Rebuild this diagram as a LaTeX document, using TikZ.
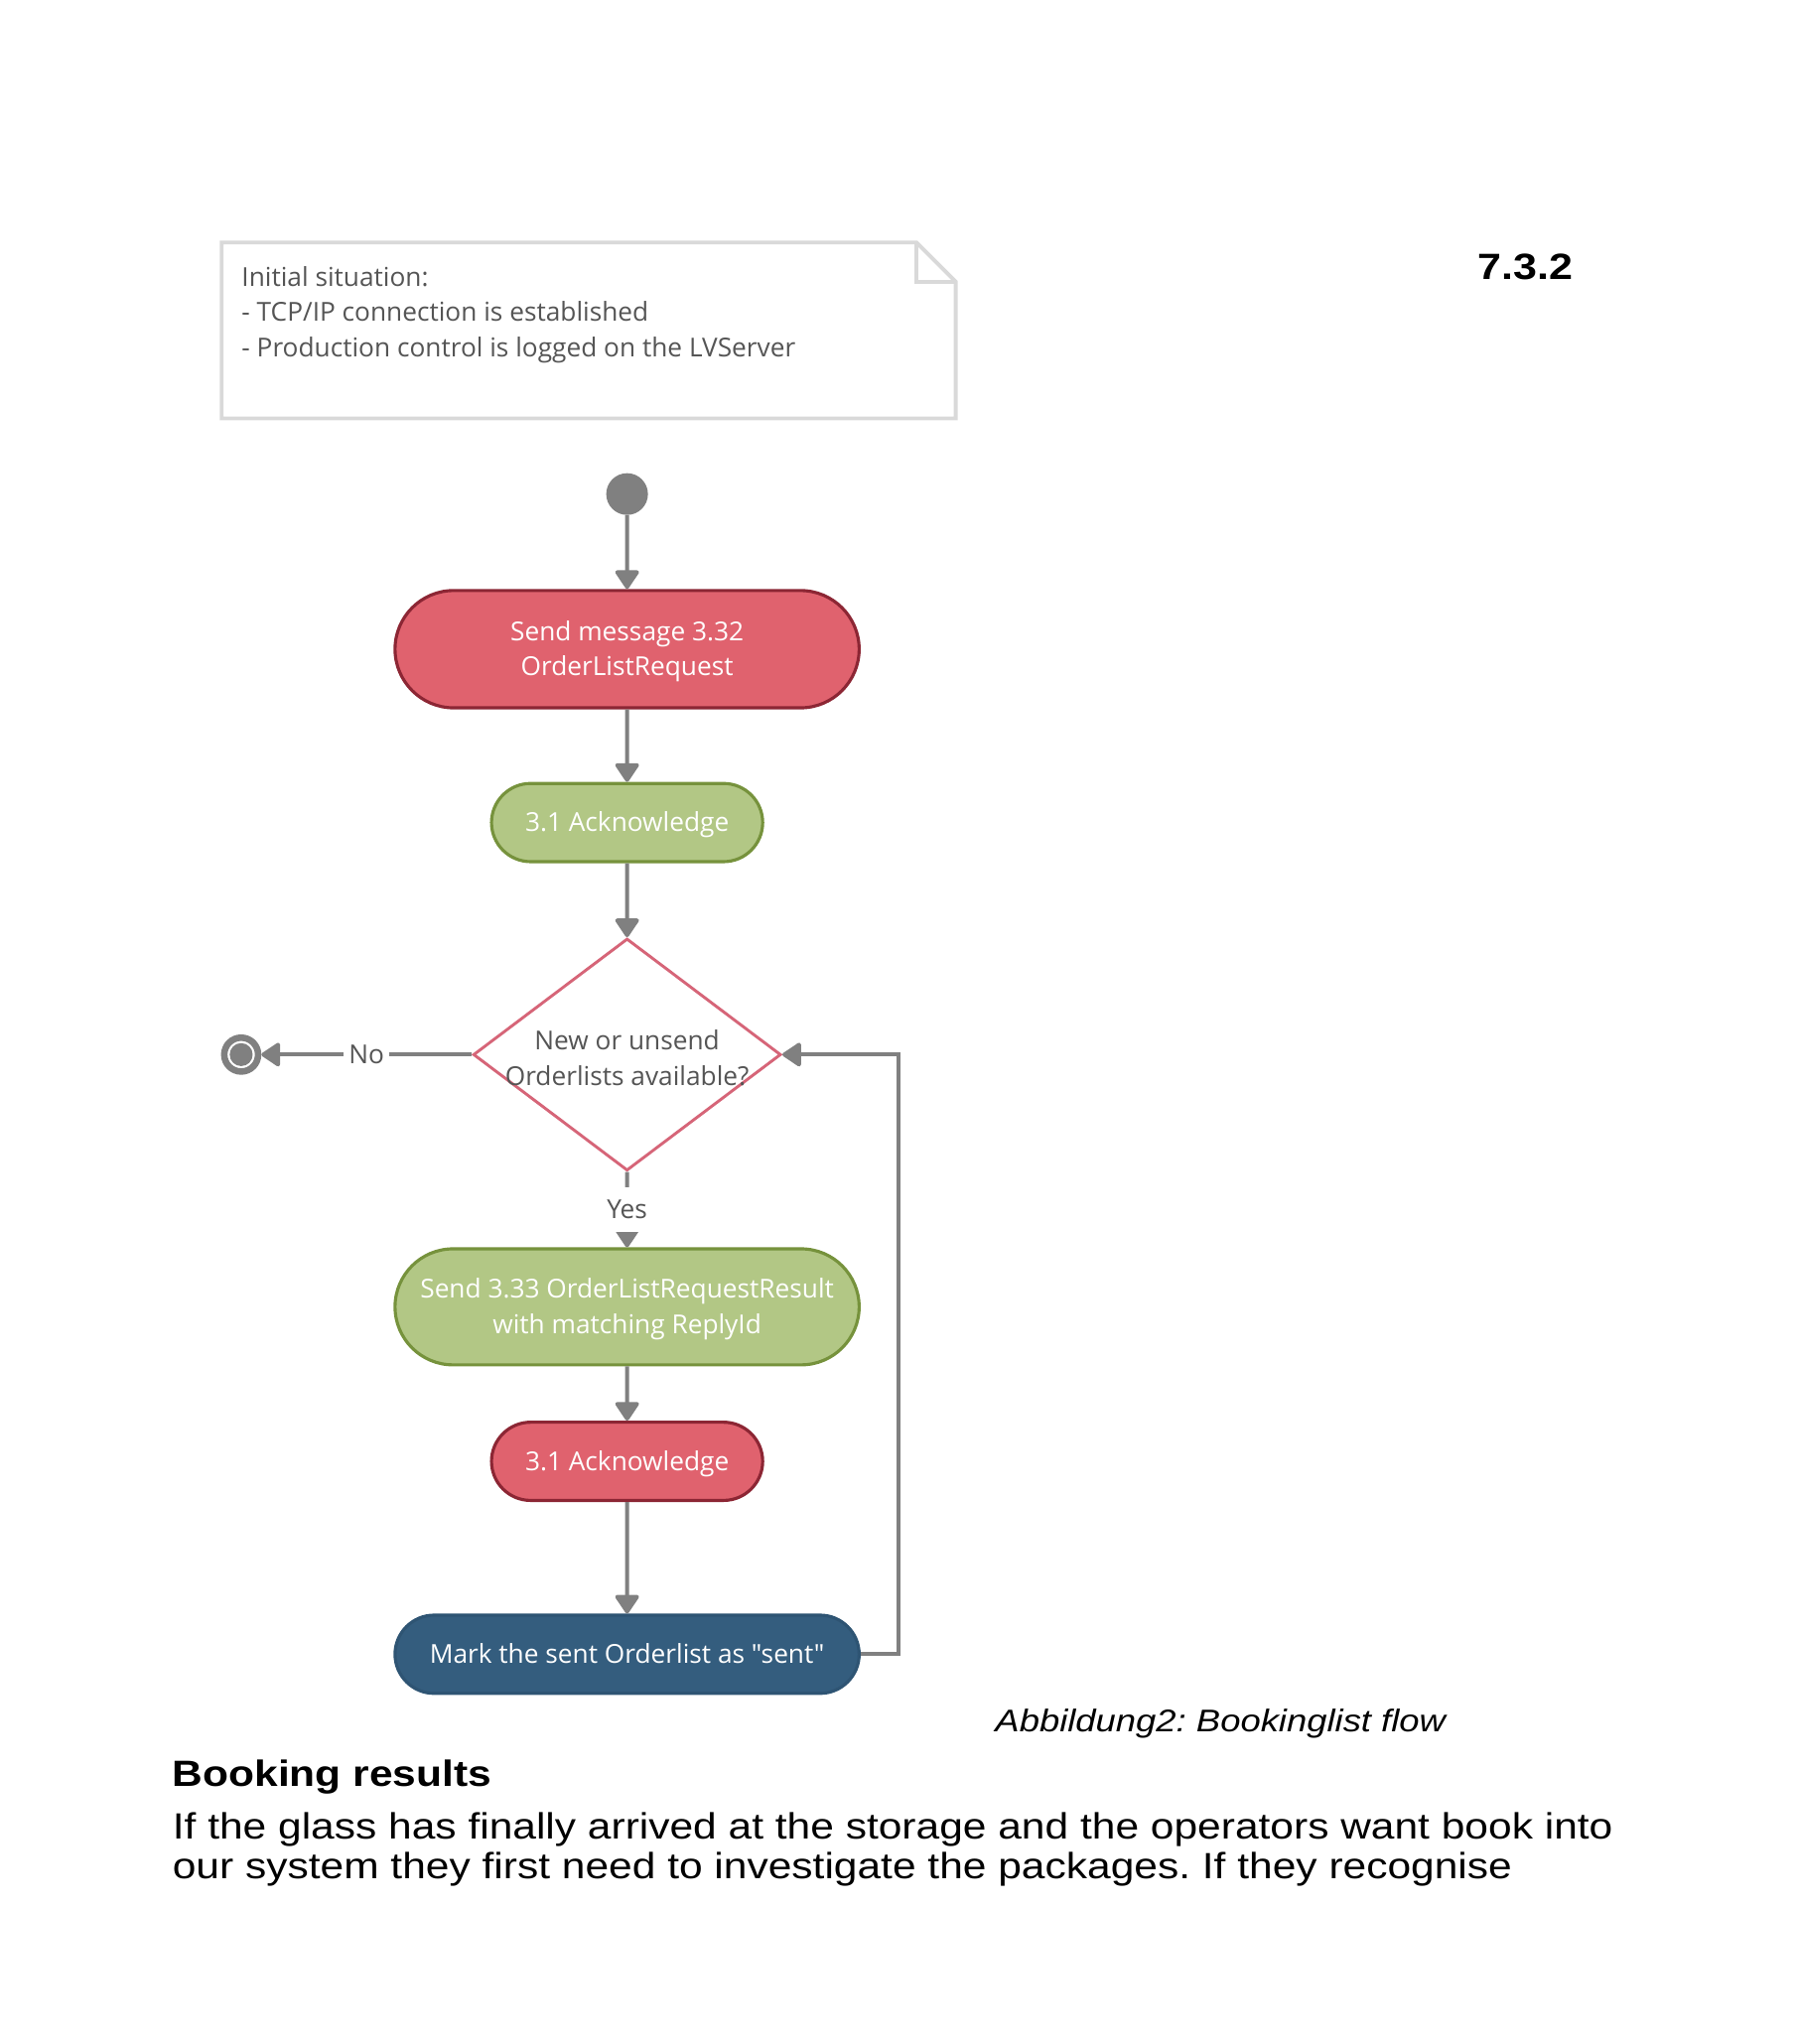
\documentclass[tikz,border=0pt]{standalone}
\usepackage{fontspec}
\setmainfont{Open Sans}[Ligatures=TeXOff]
\newfontfamily\arialfont{Liberation Sans}
\usetikzlibrary{shapes.misc,shapes.geometric,arrows.meta}
\frenchspacing
\definecolor{arrowgray}{RGB}{128,128,128}
\definecolor{redfill}{RGB}{224,98,110}
\definecolor{redline}{RGB}{140,38,52}
\definecolor{greenfill}{RGB}{178,199,133}
\definecolor{greenline}{RGB}{118,146,60}
\definecolor{bluefill}{RGB}{52,93,126}
\definecolor{blueline}{RGB}{46,84,115}
\definecolor{diamline}{RGB}{214,101,120}
\definecolor{noteline}{RGB}{217,217,217}
\definecolor{txtgray}{RGB}{85,85,85}
\newcommand\boxstrut{\rule[-3pt]{0pt}{13pt}}
\newcommand\widen[1]{\scalebox{1.156}[1]{#1}}
\begin{document}
\begin{tikzpicture}[x={(0.5pt,0)},y={(0,-0.5pt)},
  arr/.style={draw=arrowgray,line width=1.5pt,-{Triangle[length=7.8pt,width=10pt,round]}},
  box/.style={rounded rectangle,line width=1.2pt,text=white,align=center,inner sep=0pt,
    font=\fontsize{10}{13.5}\selectfont},
  redbox/.style={box,fill=redfill,draw=redline},
  greenbox/.style={box,fill=greenfill,draw=greenline},
  bluebox/.style={box,fill=bluefill,draw=blueline},
  lbl/.style={fill=white,text=txtgray,inner sep=2pt,font=\fontsize{10}{12}\selectfont},
  arial/.style={anchor=base west,inner sep=0pt}]
\useasboundingbox (0,0) rectangle (1379,1568);
% note
\draw[noteline,line width=1.5pt,fill=white] (170,186) -- (703,186) -- (733,216) -- (733,321) -- (170,321) -- cycle;
\draw[noteline,line width=1.5pt] (703,186) -- (703,216) -- (733,216);
\node[anchor=north west,align=left,text=txtgray,inner sep=0pt,font=\fontsize{10}{13.5}\selectfont] (note) at (185,204)
  {Initial situation:\\- TCP/IP connection is established\\- Production control is logged on the LVServer};
% heading number
\node[arial,font=\arialfont\bfseries\fontsize{14}{16}\selectfont] (num) at (1133,214) {\scalebox{1.17}[1]{7.3.2}};
% flow
\node[circle,fill=arrowgray,minimum size=16pt,inner sep=0pt] (start) at (481,379) {};
\node[redbox,minimum width=178pt,minimum height=45pt] (n1) at (481,498) {\boxstrut Send message 3.32\\\boxstrut OrderListRequest};
\node[greenbox,minimum width=104pt,minimum height=30pt] (n2) at (481,631) {\boxstrut 3.1 Acknowledge};
\node[diamond,draw=diamline,line width=1.1pt,fill=white,minimum width=118pt,minimum height=89pt,inner sep=0pt] (d) at (481,809) {};
\node[align=center,text=txtgray,inner sep=0pt,font=\fontsize{10}{13.5}\selectfont] (dtext) at (481,811.5) {New or unsend\\Orderlists available?};
\node[circle,draw=arrowgray,line width=2.5pt,fill=white,minimum size=13pt,inner sep=0pt] (endn) at (185,809) {};
\fill[arrowgray] (endn.center) circle (8.8);
\node[greenbox,minimum width=178pt,minimum height=44.5pt] (n3) at (481,1002.5) {\boxstrut Send 3.33 OrderListRequestResult\\\boxstrut with matching ReplyId};
\node[redbox,minimum width=104pt,minimum height=30pt] (n4) at (481,1121) {\boxstrut 3.1 Acknowledge};
\node[bluebox,minimum width=178pt,minimum height=30pt] (n5) at (481,1269) {\boxstrut Mark the sent Orderlist as "sent"};
% connectors
\draw[arr] (start) -- (n1);
\draw[arr] (n1) -- (n2);
\draw[arr] (n2) -- (d.north);
\draw[arr] (d.west) -- node[lbl] {\boxstrut No} (endn);
\draw[arr] (d.south) -- node[lbl] {\boxstrut Yes} (n3);
\draw[arr] (n3) -- (n4);
\draw[arr] (n4) -- (n5);
\draw[arr] (n5.east) -- ++(29,0) |- (d.east);
% text below
\node[arial,font=\arialfont\itshape\fontsize{12}{14}\selectfont] (cap) at (763,1328.5) {\widen{Abbildung2: Bookinglist flow}};
\node[arial,font=\arialfont\bfseries\fontsize{14}{16}\selectfont] (head) at (132,1370) {\widen{Booking results}};
\node[arial,font=\arialfont\fontsize{14}{16}\selectfont] (para1) at (132,1411)
  {\widen{If the glass has finally arrived at the storage and the operators want book into}};
\node[arial,font=\arialfont\fontsize{14}{16}\selectfont] (para2) at (132,1441)
  {\widen{our system they first need to investigate the packages. If they recognise}};
\end{tikzpicture}
\end{document}
